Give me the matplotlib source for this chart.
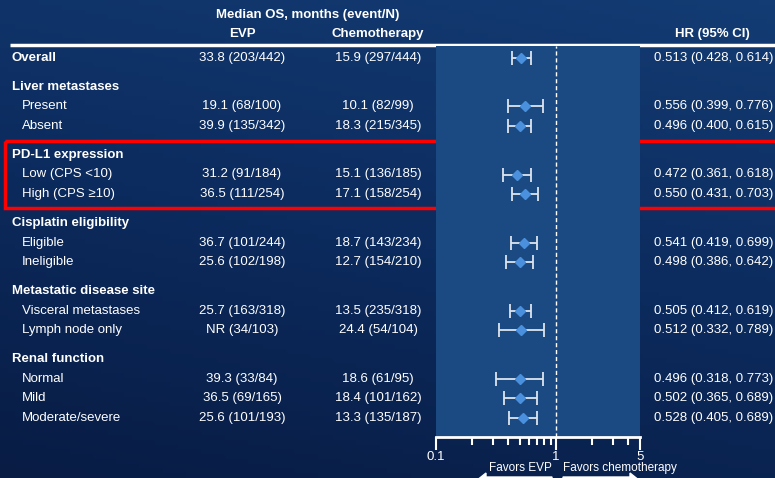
import numpy as np
import matplotlib
matplotlib.use('Agg')
import matplotlib.pyplot as plt
from matplotlib.colors import LinearSegmentedColormap
from matplotlib.patches import Rectangle, FancyArrow

plt.rcParams['font.family'] = ['Liberation Sans', 'DejaVu Sans']

# subgroup rows (None marks a group header)
labels = ['Overall', 'Liver metastases', 'Present', 'Absent',
          'PD-L1 expression', 'Low (CPS <10)', 'High (CPS \u226510)',
          'Cisplatin eligibility', 'Eligible', 'Ineligible',
          'Metastatic disease site', 'Visceral metastases', 'Lymph node only',
          'Renal function', 'Normal', 'Mild', 'Moderate/severe']
evp_os = ['33.8 (203/442)', None, '19.1 (68/100)', '39.9 (135/342)',
          None, '31.2 (91/184)', '36.5 (111/254)',
          None, '36.7 (101/244)', '25.6 (102/198)',
          None, '25.7 (163/318)', 'NR (34/103)',
          None, '39.3 (33/84)', '36.5 (69/165)', '25.6 (101/193)']
chemo_os = ['15.9 (297/444)', None, '10.1 (82/99)', '18.3 (215/345)',
            None, '15.1 (136/185)', '17.1 (158/254)',
            None, '18.7 (143/234)', '12.7 (154/210)',
            None, '13.5 (235/318)', '24.4 (54/104)',
            None, '18.6 (61/95)', '18.4 (101/162)', '13.3 (135/187)']
hr = [0.513, None, 0.556, 0.496, None, 0.472, 0.550, None, 0.541, 0.498,
      None, 0.505, 0.512, None, 0.496, 0.502, 0.528]
hr_lo = [0.428, None, 0.399, 0.400, None, 0.361, 0.431, None, 0.419, 0.386,
         None, 0.412, 0.332, None, 0.318, 0.365, 0.405]
hr_hi = [0.614, None, 0.776, 0.615, None, 0.618, 0.703, None, 0.699, 0.642,
         None, 0.619, 0.789, None, 0.773, 0.689, 0.689]
ticks = [0.1, 1, 5]
tick_labels = ['0.1', '1', '5']

W, H = 775, 478
FS = 9.5
fig = plt.figure(figsize=(W / 100, H / 100), dpi=100)

# full-figure axes in pixel units for text and background
ax = fig.add_axes([0, 0, 1, 1])
ax.set_xlim(0, W)
ax.set_ylim(H, 0)
ax.axis('off')

bg = LinearSegmentedColormap.from_list('bg', ['#133c74', '#0c2b5e', '#081c44'])
yy, xx = np.mgrid[0:1:100j, 0:1:100j]
grad = 0.75 * yy + 0.25 * (1 - xx)
ax.imshow(grad, cmap=bg, extent=(0, W, H, 0), aspect='auto', zorder=0)

# row positions: 19.7 px per line, extra gap before each group header
ys = []
y = 58
for i, lab in enumerate(labels):
    if i > 0:
        y += 19.7
        if evp_os[i] is None:
            y += 9
    ys.append(y)

panel_left, panel_right = 436, 640
panel_top, panel_bottom = 46, 437

# forest panel
fax = fig.add_axes([panel_left / W, 1 - panel_bottom / H,
                    (panel_right - panel_left) / W, (panel_bottom - panel_top) / H])
fax.set_facecolor('#1b4a83')
fax.set_xscale('log')
fax.set_xlim(0.1, 5)
fax.set_ylim(panel_bottom, panel_top)
for s in ['top', 'left', 'right']:
    fax.spines[s].set_visible(False)
fax.spines['bottom'].set_color('white')
fax.spines['bottom'].set_linewidth(2)
fax.set_yticks([])
fax.set_xticks(ticks)
fax.set_xticklabels(tick_labels)
fax.tick_params(axis='x', which='major', colors='white', length=9, width=1.5,
                labelsize=FS, pad=1)
fax.tick_params(axis='x', which='minor', colors='white', length=6, width=1.5)
fax.xaxis.set_minor_formatter(plt.NullFormatter())
fax.axvline(1, color='white', linestyle=(0, (3, 2)), linewidth=1)

for i in range(len(labels)):
    if hr[i] is None:
        continue
    fax.errorbar(hr[i], ys[i], xerr=[[hr[i] - hr_lo[i]], [hr_hi[i] - hr[i]]],
                 fmt='none', ecolor='#dde4ee', elinewidth=1.3, capsize=5, capthick=1.3)
    fax.plot(hr[i], ys[i], marker='D', color='#4a90dc', markersize=5.5,
             linestyle='none')

# header
ax.text(308, 15, 'Median OS, months (event/N)', color='white', fontsize=FS,
        fontweight='bold', ha='center', va='center')
ax.text(242, 34, 'EVP', color='white', fontsize=FS, fontweight='bold',
        ha='center', va='center')
ax.text(378, 34, 'Chemotherapy', color='white', fontsize=FS, fontweight='bold',
        ha='center', va='center')
ax.text(712, 34, 'HR (95% CI)', color='white', fontsize=FS, fontweight='bold',
        ha='center', va='center')
ax.plot([10, W], [45, 45], color='white', linewidth=2.5, solid_capstyle='butt')

# table rows
for i, lab in enumerate(labels):
    if evp_os[i] is None or i == 0:
        ax.text(12, ys[i], lab, color='white', fontsize=FS, fontweight='bold',
                va='center', ha='left')
    else:
        ax.text(22, ys[i], lab, color='white', fontsize=FS, va='center', ha='left')
    if evp_os[i] is not None:
        ax.text(242, ys[i], evp_os[i], color='white', fontsize=FS,
                va='center', ha='center')
        ax.text(378, ys[i], chemo_os[i], color='white', fontsize=FS,
                va='center', ha='center')
        ax.text(773, ys[i], f'{hr[i]:.3f} ({hr_lo[i]:.3f}, {hr_hi[i]:.3f})',
                color='white', fontsize=FS, va='center', ha='right')

# highlight box around PD-L1 rows
ax.add_patch(Rectangle((5, 141), 790, 67, fill=False, edgecolor='#ff0000',
                       linewidth=2.5, zorder=5))

# favors labels and arrows (mostly below the bottom edge)
ax.text(552, 468, 'Favors EVP', color='white', fontsize=8.5, ha='right', va='center')
ax.text(563, 468, 'Favors chemotherapy', color='white', fontsize=8.5,
        ha='left', va='center')
ax.add_patch(FancyArrow(552, 481, -76, 0, width=8, head_width=16, head_length=10,
                        color='white', length_includes_head=True, zorder=4))
ax.add_patch(FancyArrow(563, 481, 77, 0, width=8, head_width=16, head_length=10,
                        color='white', length_includes_head=True, zorder=4))

fig.savefig('out.png', dpi=100)
